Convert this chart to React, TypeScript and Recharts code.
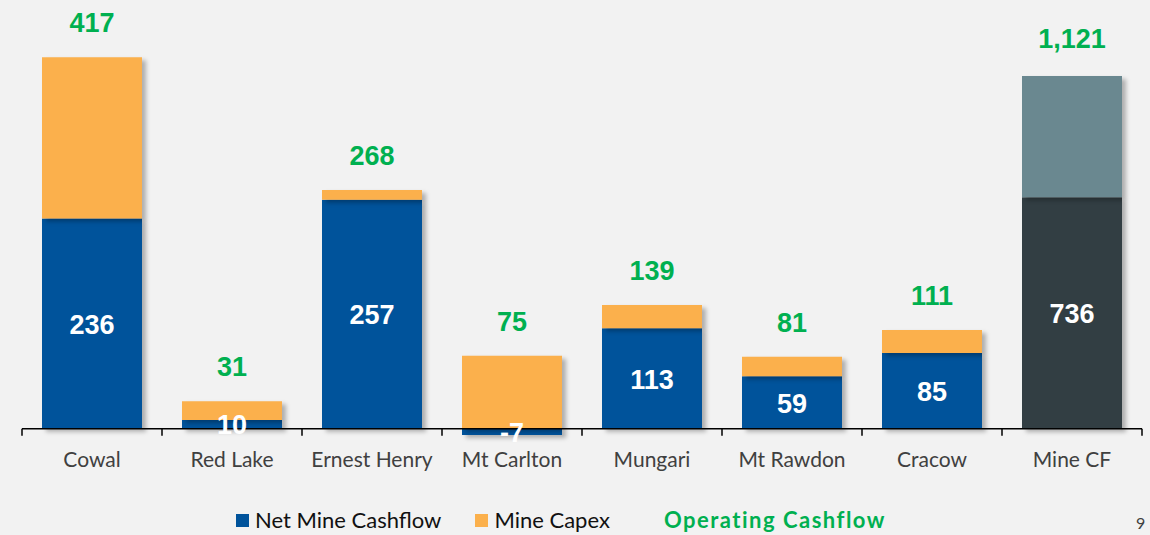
import React from 'react';
import { BarChart, Bar, XAxis, YAxis, ReferenceLine, LabelList } from 'recharts';

// mine names, in chart order
const mines = ['Cowal', 'Red Lake', 'Ernest Henry', 'Mt Carlton', 'Mungari', 'Mt Rawdon', 'Cracow', 'Mine CF'];
// A$M, per mine
const netMineCashflow = [236, 10, 257, -7, 113, 59, 85, null];
const mineCapex = [181, 21, 11, 82, 26, 22, 26, null];
// the group total bar is drawn on its own scale
const groupNetCashflow = [null, null, null, null, null, null, null, 736];
const groupCapex = [null, null, null, null, null, null, null, 385];

const data = mines.map((name, i) => ({
  name,
  net: netMineCashflow[i],
  capex: mineCapex[i],
  total: netMineCashflow[i] == null ? null : (netMineCashflow[i] as number) + (mineCapex[i] as number),
  cfNet: groupNetCashflow[i],
  cfCapex: groupCapex[i],
  cfTotal: groupNetCashflow[i] == null ? null : (groupNetCashflow[i] as number) + (groupCapex[i] as number),
}));

const BLUE = '#00539b';
const ORANGE = '#fbb04c';
const DARK = '#323e43';
const SLATE = '#6a8890';
const GREEN = '#00b050';
const LABEL_FONT = '"Liberation Sans", Arial, sans-serif';
const TEXT_FONT = 'Lato, "Open Sans", sans-serif';

const TotalLabel = (props: any) => {
  const { x, y, width, value } = props;
  if (value == null) return null;
  return (
    <text
      x={x + width / 2}
      y={y - 34}
      textAnchor="middle"
      dominantBaseline="central"
      fill={GREEN}
      fontFamily={LABEL_FONT}
      fontWeight="bold"
      fontSize={27}
    >
      {Number(value).toLocaleString('en-US')}
    </text>
  );
};

const InnerLabel = (props: any) => {
  const { x, y, width, height, value } = props;
  if (value == null) return null;
  return (
    <text
      x={x + width / 2}
      y={y + height / 2 + 1}
      textAnchor="middle"
      dominantBaseline="central"
      fill="#ffffff"
      fontFamily={LABEL_FONT}
      fontWeight="bold"
      fontSize={27}
    >
      {value}
    </text>
  );
};

// zero line with small ticks at each category boundary
const ZeroAxis = (props: any) => {
  const { x1, y1, x2 } = props;
  const step = (x2 - x1) / mines.length;
  return (
    <g>
      <line x1={x1} y1={y1} x2={x2} y2={y1} stroke="#000" strokeWidth={1.5} />
      {mines.map((_, i) => (
        <line key={i} x1={x1 + i * step} y1={y1} x2={x1 + i * step} y2={y1 + 7} stroke="#000" strokeWidth={1.5} />
      ))}
      <line x1={x2} y1={y1} x2={x2} y2={y1 + 7} stroke="#000" strokeWidth={1.5} />
    </g>
  );
};

export default function App() {
  return (
    <div style={{ position: 'absolute', left: 0, top: 0, width: 1150, height: 535, background: '#f2f2f2', overflow: 'hidden' }}>
      <style>{`.recharts-bar-rectangles { filter: drop-shadow(4px 3px 2px rgba(0,0,0,0.28)); }`}</style>
      <BarChart
        width={1150}
        height={535}
        data={data}
        stackOffset="sign"
        margin={{ top: 19, right: 8, left: 22, bottom: 61 }}
        barSize={100}
      >
        <XAxis
          xAxisId="a"
          dataKey="name"
          height={30}
          axisLine={false}
          tickLine={false}
          interval={0}
          tick={{ fill: '#404040', fontSize: 21, fontFamily: TEXT_FONT }}
        />
        <XAxis xAxisId="b" dataKey="name" hide />
        <YAxis yAxisId="a" hide domain={[-17, 460]} />
        <YAxis yAxisId="b" hide domain={[-48, 1302]} />
        <Bar xAxisId="a" yAxisId="a" dataKey="net" stackId="mine" fill={BLUE} isAnimationActive={false}>
          <LabelList dataKey="net" content={InnerLabel} />
        </Bar>
        <Bar xAxisId="a" yAxisId="a" dataKey="capex" stackId="mine" fill={ORANGE} isAnimationActive={false}>
          <LabelList dataKey="total" content={TotalLabel} />
        </Bar>
        <Bar xAxisId="b" yAxisId="b" dataKey="cfNet" stackId="group" fill={DARK} isAnimationActive={false}>
          <LabelList dataKey="cfNet" content={InnerLabel} />
        </Bar>
        <Bar xAxisId="b" yAxisId="b" dataKey="cfCapex" stackId="group" fill={SLATE} isAnimationActive={false}>
          <LabelList dataKey="cfTotal" content={(p: any) => <TotalLabel {...p} y={p.y - 3} />} />
        </Bar>
        <ReferenceLine xAxisId="a" yAxisId="a" y={0} shape={ZeroAxis} />
      </BarChart>
      <div
        style={{
          position: 'absolute',
          left: 236,
          top: 507,
          display: 'flex',
          alignItems: 'center',
          fontFamily: TEXT_FONT,
          fontSize: 22,
          lineHeight: '26px',
          color: '#111',
          whiteSpace: 'nowrap',
        }}
      >
        <span style={{ display: 'inline-block', width: 13, height: 13, background: BLUE, marginRight: 6 }} />
        <span>Net Mine Cashflow</span>
        <span style={{ display: 'inline-block', width: 13, height: 13, background: ORANGE, marginLeft: 34, marginRight: 6 }} />
        <span>Mine Capex</span>
        <span style={{ marginLeft: 54, color: GREEN, fontWeight: 'bold', letterSpacing: 1.5 }}>Operating Cashflow</span>
      </div>
      <div style={{ position: 'absolute', left: 1136, top: 514, fontFamily: TEXT_FONT, fontSize: 16, lineHeight: '18px', color: '#404040' }}>9</div>
    </div>
  );
}
